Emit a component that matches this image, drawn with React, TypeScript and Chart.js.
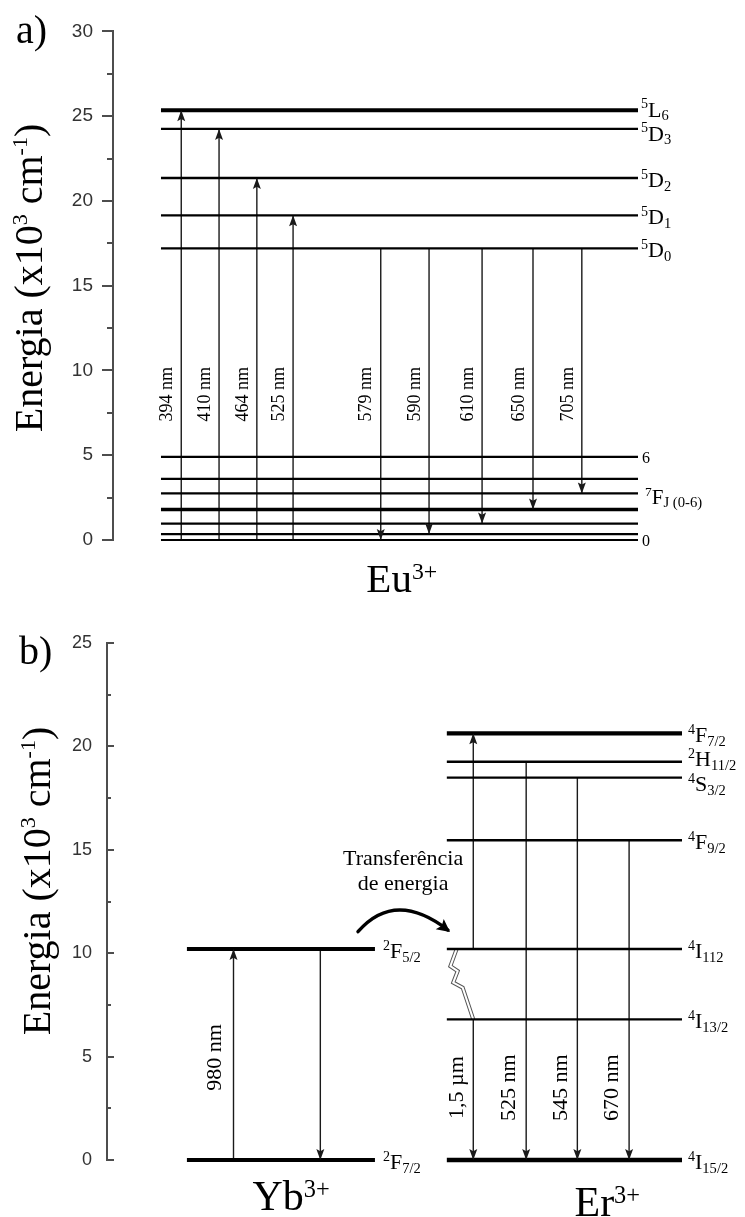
import React, { useEffect, useRef } from 'react';
import { Chart, registerables } from 'chart.js';

Chart.register(...registerables);

const SERIF = '"Liberation Serif", "Times New Roman", Times, serif';
const SANS = '"Liberation Sans", Arial, Helvetica, sans-serif';
const INK = '#000';
const ARROW = '#1a1a1a';
const AXIS = '#4d4d4d';
const TICK_TEXT = '#333';

// ---------- a) Eu3+ levels (energies in 10^3 cm^-1) ----------
const euYMax = 30;
const euExcitedTerms = ['^{5}L_{6}', '^{5}D_{3}', '^{5}D_{2}', '^{5}D_{1}', '^{5}D_{0}'];
const euExcitedEnergy = [25.35, 24.25, 21.35, 19.15, 17.2];
const euGroundEnergy = [0, 0.35, 0.97, 1.8, 2.75, 3.6, 4.9]; // 7F0 ... 7F6
const euGroundTerm = '^{7}F_{J (0-6)}';
const euGroundEnds = ['0', '6'];
const euAbsorption = ['394 nm', '410 nm', '464 nm', '525 nm'];
const euAbsorptionTo = [25.35, 24.25, 21.35, 19.15];
const euAbsorptionCol = [13, 20.2, 27.4, 34.3];
const euEmission = ['579 nm', '590 nm', '610 nm', '650 nm', '705 nm'];
const euEmissionTo = [0, 0.35, 0.97, 1.8, 2.75];
const euEmissionCol = [51, 60.2, 70.3, 80, 89.3];
const euIon = 'Eu^{3+}';

// ---------- b) Yb3+ -> Er3+ levels ----------
const bYMax = 25;
const ybTerms = ['^{2}F_{5/2}', '^{2}F_{7/2}'];
const ybEnergy = [10.2, 0];
const ybPump = '980 nm';
const ybPumpCol = 22;
const ybReturnCol = 37.1;
const erTerms = ['^{4}F_{7/2}', '^{2}H_{11/2}', '^{4}S_{3/2}', '^{4}F_{9/2}', '^{4}I_{112}', '^{4}I_{13/2}', '^{4}I_{15/2}'];
const erEnergy = [20.63, 19.26, 18.49, 15.46, 10.2, 6.8, 0];
const erUpCol = 63.7;
const erEmission = ['1,5 µm', '525 nm', '545 nm', '670 nm'];
const erEmissionFrom = [6.8, 19.26, 18.49, 15.46];
const erEmissionCol = [63.7, 72.9, 81.8, 90.8];
const transferText = ['Transferência', 'de energia'];
const ybIon = 'Yb^{3+}';
const erIon = 'Er^{3+}';
const axisTitle = 'Energia (x10^{3} cm^{-1})';

// horizontal extents of the level bars on the hidden 0-100 x scale
const euSpan = [9.14, 100];
const ybSpan = [13.9, 46.6];
const erSpan = [59.1, 100];

type P = { x: number; y: number };

function seg(from: P, to: P, width: number, color: string, head = false) {
  return {
    data: [from, to],
    showLine: true,
    borderColor: color,
    backgroundColor: color,
    borderWidth: width,
    borderCapStyle: 'butt',
    pointRadius: 0,
    pointHoverRadius: 0,
    pointHitRadius: 0,
    tension: 0,
    clip: false,
    head,
  } as any;
}

interface RichOpt { supScale?: number; supRise?: number; subScale?: number; subDrop?: number; }

function parseRich(s: string) {
  const out: { text: string; kind: 'n' | 'sup' | 'sub' }[] = [];
  let buf = '';
  let i = 0;
  while (i < s.length) {
    const c = s[i];
    if ((c === '^' || c === '_') && s[i + 1] === '{') {
      if (buf) { out.push({ text: buf, kind: 'n' }); buf = ''; }
      const end = s.indexOf('}', i + 2);
      out.push({ text: s.slice(i + 2, end), kind: c === '^' ? 'sup' : 'sub' });
      i = end + 1;
    } else { buf += c; i++; }
  }
  if (buf) out.push({ text: buf, kind: 'n' });
  return out;
}

function drawRich(ctx: CanvasRenderingContext2D, s: string, x: number, y: number, size: number,
  align: 'left' | 'center' | 'right', o: RichOpt = {}, color = INK) {
  const supScale = o.supScale ?? 0.64, supRise = o.supRise ?? 0.38;
  const subScale = o.subScale ?? 0.66, subDrop = o.subDrop ?? 0.17;
  const items = parseRich(s).map((sg) => {
    const fs = sg.kind === 'n' ? size : size * (sg.kind === 'sup' ? supScale : subScale);
    ctx.font = `${fs}px ${SERIF}`;
    return { ...sg, fs, w: ctx.measureText(sg.text).width };
  });
  const total = items.reduce((a, b) => a + b.w, 0);
  let cx = align === 'center' ? x - total / 2 : align === 'right' ? x - total : x;
  ctx.save();
  ctx.fillStyle = color;
  ctx.textAlign = 'left';
  ctx.textBaseline = 'alphabetic';
  for (const it of items) {
    ctx.font = `${it.fs}px ${SERIF}`;
    const dy = it.kind === 'sup' ? -supRise * size : it.kind === 'sub' ? subDrop * size : 0;
    ctx.fillText(it.text, cx, y + dy);
    cx += it.w;
  }
  ctx.restore();
}

function drawVertical(ctx: CanvasRenderingContext2D, text: string, cx: number, cy: number, size: number) {
  ctx.save();
  ctx.translate(cx, cy);
  ctx.rotate(-Math.PI / 2);
  ctx.font = `${size}px ${SERIF}`;
  ctx.fillStyle = INK;
  ctx.textAlign = 'center';
  ctx.textBaseline = 'middle';
  ctx.fillText(text, 0, 0);
  ctx.restore();
}

function drawAxisTitle(ctx: CanvasRenderingContext2D, baseX: number, cy: number) {
  ctx.save();
  ctx.translate(baseX, cy);
  ctx.rotate(-Math.PI / 2);
  drawRich(ctx, axisTitle, 0, 0, 40, 'center', { supScale: 0.55, supRise: 0.38 });
  ctx.restore();
}

// spreads label centres apart when two levels sit too close together
function spread(ys: number[], gap: number) {
  const out = ys.slice();
  for (let i = 1; i < out.length; i++) {
    const d = out[i] - out[i - 1];
    if (d < gap) { const k = (gap - d) / 2; out[i - 1] -= k; out[i] += k; }
  }
  return out;
}

function head(ctx: CanvasRenderingContext2D, x0: number, y0: number, x1: number, y1: number, len: number, half: number) {
  const a = Math.atan2(y1 - y0, x1 - x0);
  const c = Math.cos(a), s = Math.sin(a);
  ctx.beginPath();
  ctx.moveTo(x1, y1);
  ctx.lineTo(x1 - len * c + half * s, y1 - len * s - half * c);
  ctx.lineTo(x1 - len * 0.8 * c, y1 - len * 0.8 * s);
  ctx.lineTo(x1 - len * c - half * s, y1 - len * s + half * c);
  ctx.closePath();
  ctx.fill();
}

const arrowHeads = {
  id: 'arrowHeads',
  afterDatasetsDraw(chart: any) {
    const ctx = chart.ctx as CanvasRenderingContext2D;
    ctx.save();
    chart.data.datasets.forEach((ds: any, i: number) => {
      if (!ds.head) return;
      const pts = chart.getDatasetMeta(i).data;
      ctx.fillStyle = ds.borderColor;
      head(ctx, pts[0].x, pts[0].y, pts[1].x, pts[1].y, 11, 4);
    });
    ctx.restore();
  },
};

function axisTicks(majorLen: number, minorLen: number, inward: boolean) {
  return {
    id: 'axisTicks',
    afterDraw(chart: any) {
      const s = chart.scales.y;
      const ctx = chart.ctx as CanvasRenderingContext2D;
      const x0 = s.right;
      ctx.save();
      ctx.strokeStyle = AXIS;
      ctx.lineWidth = 2;
      for (let v = s.min; v <= s.max + 1e-6; v += 2.5) {
        const major = Math.abs(v / 5 - Math.round(v / 5)) < 1e-6;
        const len = major ? majorLen : minorLen;
        const y = Math.round(s.getPixelForValue(v));
        ctx.beginPath();
        ctx.moveTo(x0, y);
        ctx.lineTo(inward ? x0 + len : x0 - len, y);
        ctx.stroke();
      }
      ctx.restore();
    },
  };
}

function baseOptions(yMax: number, tickSize: number, tickPad: number, axisWidth: number, padding: any) {
  return {
    responsive: false,
    maintainAspectRatio: false,
    animation: false,
    devicePixelRatio: 1,
    events: [],
    layout: { padding },
    plugins: { legend: { display: false }, tooltip: { enabled: false } },
    scales: {
      x: { type: 'linear', min: 0, max: 100, display: false },
      y: {
        type: 'linear',
        min: 0,
        max: yMax,
        afterFit: (sc: any) => { sc.width = axisWidth; },
        ticks: { stepSize: 5, color: TICK_TEXT, font: { family: SANS, size: tickSize }, padding: tickPad },
        grid: { color: 'rgba(0,0,0,0)', drawTicks: false },
        border: { display: true, color: AXIS, width: 2 },
      },
    },
  } as any;
}

// ---------- panel a ----------
function euConfig() {
  const top = euExcitedEnergy[euExcitedEnergy.length - 1];
  const datasets = [
    ...euExcitedEnergy.map((e, i) => seg({ x: euSpan[0], y: e }, { x: euSpan[1], y: e }, i === 0 ? 4 : 2.4, INK)),
    ...euGroundEnergy.map((e, i) => seg({ x: euSpan[0], y: e }, { x: euSpan[1], y: e }, i === 3 ? 3.6 : 2.2, INK)),
    ...euAbsorption.map((_, i) => seg({ x: euAbsorptionCol[i], y: 0 }, { x: euAbsorptionCol[i], y: euAbsorptionTo[i] }, 1.4, ARROW, true)),
    ...euEmission.map((_, i) => seg({ x: euEmissionCol[i], y: top }, { x: euEmissionCol[i], y: euEmissionTo[i] }, 1.4, ARROW, true)),
  ];
  const annotations = {
    id: 'euText',
    afterDraw(chart: any) {
      const ctx = chart.ctx as CanvasRenderingContext2D;
      const area = chart.chartArea;
      const X = (v: number) => chart.scales.x.getPixelForValue(v);
      const Y = (v: number) => chart.scales.y.getPixelForValue(v);
      const lx = area.right + 3;
      const centres = spread(euExcitedEnergy.map((e) => Y(e) + 2), 24);
      euExcitedTerms.forEach((t, i) => drawRich(ctx, t, lx, centres[i] + 7, 22, 'left'));
      const gTop = Y(Math.max(...euGroundEnergy));
      const gBot = Y(Math.min(...euGroundEnergy));
      drawRich(ctx, euGroundEnds[1], lx + 1, gTop + 6, 16, 'left');
      drawRich(ctx, euGroundEnds[0], lx + 1, gBot + 6, 16, 'left');
      drawRich(ctx, euGroundTerm, lx + 4, (gTop + gBot) / 2 + 6, 21, 'left', { subScale: 0.7, subDrop: 0.12 });
      euAbsorption.forEach((t, i) => drawVertical(ctx, t, X(euAbsorptionCol[i]) - 14, Y(8.6), 18));
      euEmission.forEach((t, i) => drawVertical(ctx, t, X(euEmissionCol[i]) - 14, Y(8.6), 18));
      drawRich(ctx, euIon, X(55), area.bottom + 52, 41, 'center', { supScale: 0.58, supRise: 0.32 });
      drawRich(ctx, 'a)', 16, 43, 40, 'left');
      drawAxisTitle(ctx, 42, 278);
    },
  };
  return {
    type: 'scatter',
    data: { datasets },
    options: baseOptions(euYMax, 19, 20, 113, { left: 0, top: 24, right: 107, bottom: 60 }),
    plugins: [arrowHeads, axisTicks(11, 6, false), annotations],
  } as any;
}

// ---------- panel b ----------
const boltShape = [[0, 0], [0.21, 10], [0.3, 4], [0.44, 11], [0.54, 3], [1, 0]];

function bConfig() {
  const datasets = [
    ...ybEnergy.map((e) => seg({ x: ybSpan[0], y: e }, { x: ybSpan[1], y: e }, 4, INK)),
    ...erEnergy.map((e, i) => seg({ x: erSpan[0], y: e }, { x: erSpan[1], y: e }, i === 0 || i === erEnergy.length - 1 ? 4.4 : 2.4, INK)),
    seg({ x: ybPumpCol, y: ybEnergy[1] }, { x: ybPumpCol, y: ybEnergy[0] }, 1.4, ARROW, true),
    seg({ x: ybReturnCol, y: ybEnergy[0] }, { x: ybReturnCol, y: ybEnergy[1] }, 1.4, ARROW, true),
    seg({ x: erUpCol, y: erEnergy[4] }, { x: erUpCol, y: erEnergy[0] }, 1.4, ARROW, true),
    ...erEmission.map((_, i) => seg({ x: erEmissionCol[i], y: erEmissionFrom[i] }, { x: erEmissionCol[i], y: 0 }, 1.4, ARROW, true)),
  ];
  const annotations = {
    id: 'erText',
    beforeDatasetsDraw(chart: any) {
      // non-radiative relaxation 4I11/2 -> 4I13/2
      const ctx = chart.ctx as CanvasRenderingContext2D;
      const X = (v: number) => chart.scales.x.getPixelForValue(v);
      const Y = (v: number) => chart.scales.y.getPixelForValue(v);
      const a = { x: X(erSpan[0] + 1.7), y: Y(erEnergy[4]) };
      const b = { x: X(erEmissionCol[0]), y: Y(erEnergy[5]) };
      const dx = b.x - a.x, dy = b.y - a.y;
      const L = Math.hypot(dx, dy);
      const nx = -dy / L, ny = dx / L;
      const pts = boltShape.map(([s, d]) => [a.x + dx * s + nx * d, a.y + dy * s + ny * d]);
      ctx.save();
      ctx.lineJoin = 'miter';
      const path = () => { ctx.beginPath(); pts.forEach(([px, py], k) => (k ? ctx.lineTo(px, py) : ctx.moveTo(px, py))); };
      path(); ctx.strokeStyle = '#555'; ctx.lineWidth = 4; ctx.stroke();
      path(); ctx.strokeStyle = '#fff'; ctx.lineWidth = 2; ctx.stroke();
      ctx.restore();
    },
    afterDraw(chart: any) {
      const ctx = chart.ctx as CanvasRenderingContext2D;
      const area = chart.chartArea;
      const X = (v: number) => chart.scales.x.getPixelForValue(v);
      const Y = (v: number) => chart.scales.y.getPixelForValue(v);
      ybTerms.forEach((t, i) => drawRich(ctx, t, X(ybSpan[1]) + 8, Y(ybEnergy[i]) + 2 + 7, 22, 'left'));
      const centres = spread(erEnergy.map((e) => Y(e) + 2), 25);
      erTerms.forEach((t, i) => drawRich(ctx, t, area.right + 6, centres[i] + 7, 22, 'left'));
      drawVertical(ctx, ybPump, X(ybPumpCol) - 18.5, Y(4.96), 22);
      erEmission.forEach((t, i) => drawVertical(ctx, t, X(erEmissionCol[i]) - 16.5, Y(3.5), 22));
      // energy-transfer arrow
      const s = { x: X(43.65), y: Y(11.04) };
      const c = { x: X(50.1), y: Y(13.1) };
      const e = { x: X(59.3), y: Y(11.12) };
      ctx.save();
      ctx.strokeStyle = INK;
      ctx.fillStyle = INK;
      ctx.lineWidth = 3.4;
      ctx.lineCap = 'round';
      ctx.beginPath();
      ctx.moveTo(s.x, s.y);
      ctx.quadraticCurveTo(c.x, c.y, e.x, e.y);
      ctx.stroke();
      head(ctx, c.x, c.y, e.x + 2, e.y + 2, 13, 6.5);
      ctx.restore();
      transferText.forEach((t, i) => drawRich(ctx, t, X(51.5), Y(14.25) + i * 25, 22, 'center'));
      drawRich(ctx, ybIon, X(32), area.bottom + 50, 42, 'center', { supScale: 0.58, supRise: 0.32 });
      drawRich(ctx, erIon, X(87), area.bottom + 56, 42, 'center', { supScale: 0.58, supRise: 0.32 });
      drawRich(ctx, 'b)', 19, 64, 40, 'left');
      drawAxisTitle(ctx, 50, 281);
    },
  };
  return {
    type: 'scatter',
    data: { datasets },
    options: baseOptions(bYMax, 18, 15, 107, { left: 0, top: 43, right: 63, bottom: 57 }),
    plugins: [arrowHeads, axisTicks(7, 4, true), annotations],
  } as any;
}

export default function App() {
  const refA = useRef<HTMLCanvasElement | null>(null);
  const refB = useRef<HTMLCanvasElement | null>(null);

  useEffect(() => {
    const a = new Chart(refA.current as HTMLCanvasElement, euConfig());
    const b = new Chart(refB.current as HTMLCanvasElement, bConfig());
    return () => { a.destroy(); b.destroy(); };
  }, []);

  return (
    <div style={{ position: 'absolute', left: 0, top: 0, width: 745, height: 1217, background: '#fff' }}>
      <canvas ref={refA} width={745} height={600} style={{ position: 'absolute', left: 0, top: 0 }} />
      <canvas ref={refB} width={745} height={617} style={{ position: 'absolute', left: 0, top: 600 }} />
    </div>
  );
}
